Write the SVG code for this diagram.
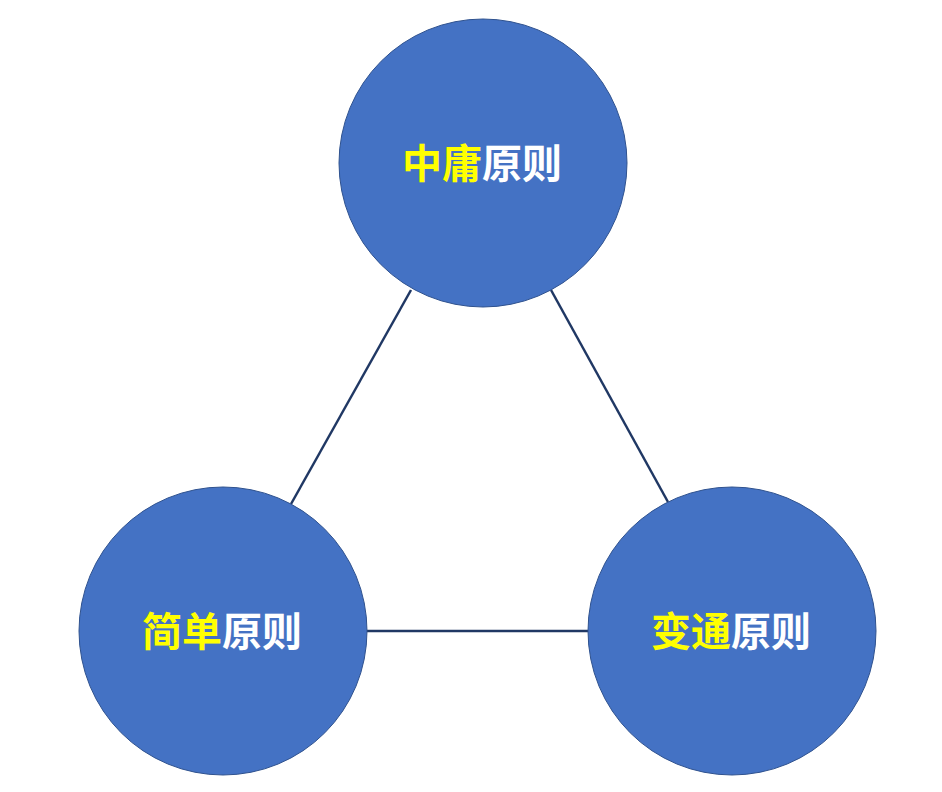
<svg xmlns="http://www.w3.org/2000/svg" width="942" height="792" viewBox="0 0 942 792">
<style>
.node{fill:#4472C4;stroke:#2F528F;stroke-width:1}
.lbl{font-family:"Noto Sans CJK SC","Microsoft YaHei",sans-serif;font-weight:bold;font-size:40px;text-anchor:middle}
.y{fill:#FFFF00}
.w{fill:#FFFFFF}
.edge{stroke:#203864;stroke-width:2.5;fill:none}
</style>
<rect width="942" height="792" fill="#FFFFFF"/>
<g id="connectors">
<line class="edge" x1="411" y1="290" x2="291" y2="504"/>
<line class="edge" x1="551" y1="290" x2="668" y2="502"/>
<line class="edge" x1="367" y1="631" x2="588" y2="631"/>
</g>
<g id="node-zhongyong">
<circle class="node" cx="483" cy="163" r="144"/>
<text class="lbl" x="482" y="178"><tspan class="y">中庸</tspan><tspan class="w">原则</tspan></text>
</g>
<g id="node-jiandan">
<circle class="node" cx="223" cy="631" r="144"/>
<text class="lbl" x="222" y="646"><tspan class="y">简单</tspan><tspan class="w">原则</tspan></text>
</g>
<g id="node-biantong">
<circle class="node" cx="732" cy="631" r="144"/>
<text class="lbl" x="731" y="646"><tspan class="y">变通</tspan><tspan class="w">原则</tspan></text>
</g>
</svg>
